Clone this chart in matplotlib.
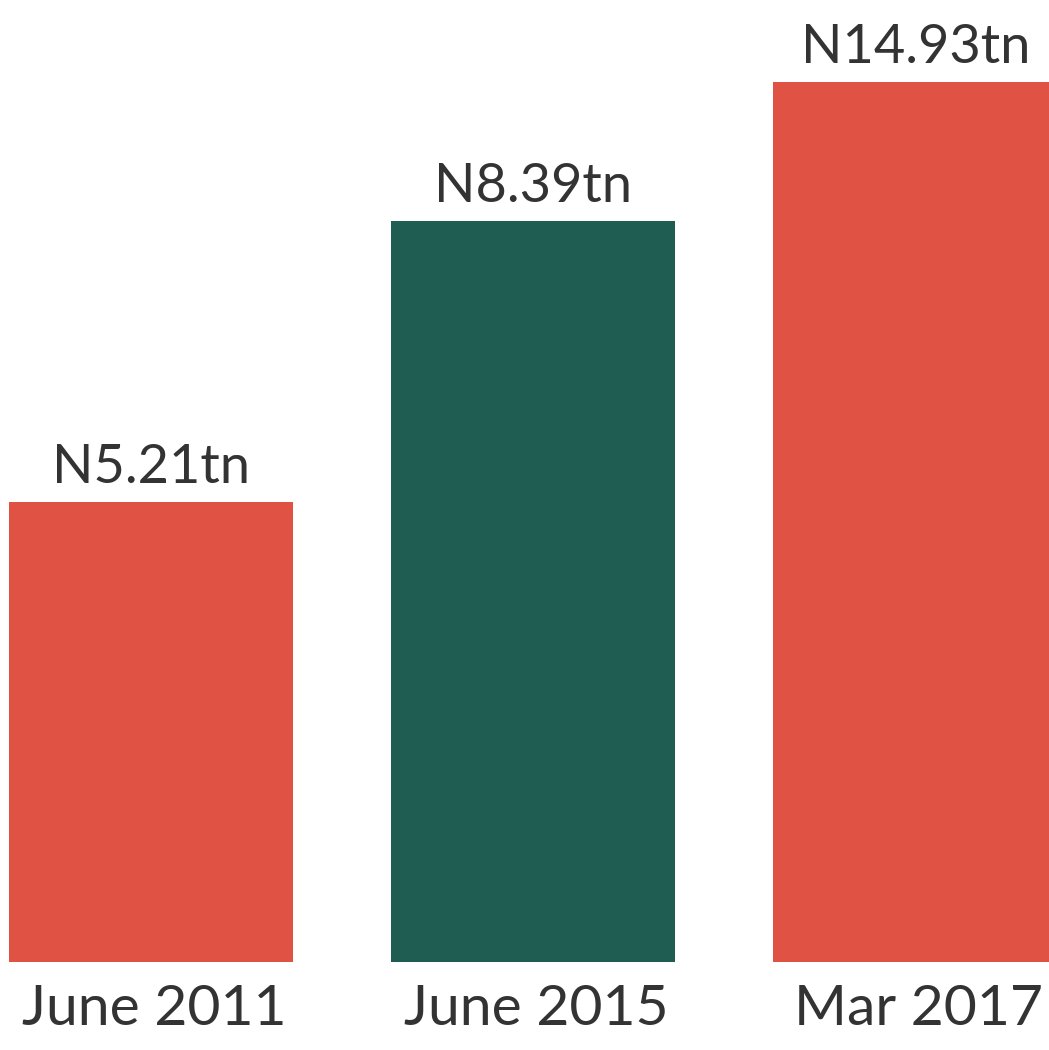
import matplotlib.pyplot as plt

# Data
periods = ["June 2011", "June 2015", "Mar 2017"]
values = [5.21, 8.39, 14.93]
# the original draws the last bar cut short (not to scale)
bar_heights = [5.21, 8.39, 9.97]
colors = ["#E05244", "#1F5C52", "#E05244"]

plt.rcParams["font.family"] = ["Lato", "DejaVu Sans"]
text_color = "#333333"

fig = plt.figure(figsize=(10.49, 10.50), dpi=100)
ax = fig.add_axes([0, 88 / 1050, 1, 962 / 1050])

x = range(len(periods))
bars = ax.bar(x, bar_heights, width=0.745, color=colors)

ax.set_xlim(-0.395, 2.35)
ax.set_ylim(0, 10.894)
ax.axis("off")

# value labels above bars
for xi, h, v in zip(x, bar_heights, values):
    ax.annotate(f"N{v:.2f}tn", xy=(xi, h), xytext=(0, 19),
                textcoords="offset pixels", ha="center", va="baseline",
                fontsize=39, color=text_color)

# category labels below bars
for xi, label in zip(x, periods):
    ax.annotate(label, xy=(xi, 0), xycoords=("data", "axes fraction"),
                xytext=(3, -63), textcoords="offset pixels",
                ha="center", va="baseline", fontsize=41, color=text_color,
                annotation_clip=False)

fig.savefig("out.png", dpi=100)
